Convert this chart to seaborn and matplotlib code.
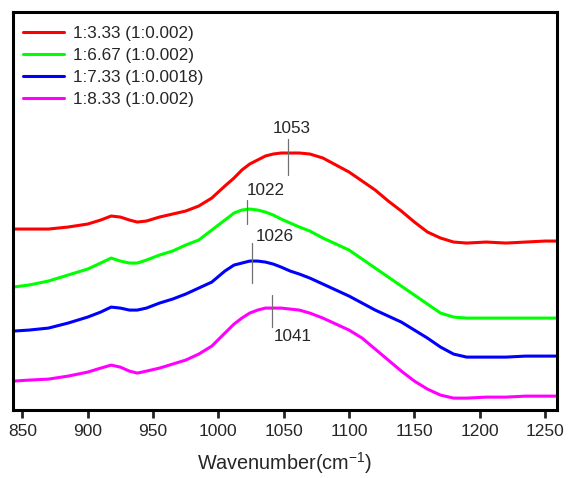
import numpy as np
import pandas as pd
import matplotlib
matplotlib.use('Agg')
import matplotlib.pyplot as plt
import seaborn as sns

sns.set_style('white')
plt.rcParams['font.family'] = ['Liberation Sans', 'DejaVu Sans']

# wavenumber grid (cm^-1) and intensities (arbitrary units, stacked)
wavenumber = [843, 855, 870, 885, 900, 910, 918, 925, 932, 938,
              945, 955, 965, 975, 985, 995, 1005, 1012, 1018, 1024,
              1030, 1036, 1042, 1048, 1055, 1062, 1070, 1080, 1090, 1100,
              1110, 1120, 1130, 1140, 1150, 1160, 1170, 1180, 1190, 1205,
              1220, 1235, 1250, 1259]

red = [181, 181, 181, 183, 186, 190, 194, 193, 190, 188,
       189, 193, 196, 199, 204, 212, 224, 232, 240, 246,
       250, 254, 256, 257, 257, 257, 256, 252, 245, 238,
       229, 220, 209, 199, 188, 178, 172, 168, 167, 168,
       167, 168, 169, 169]
green = [123, 125, 129, 135, 141, 147, 152, 149, 147, 147,
         150, 155, 159, 165, 170, 180, 190, 197, 200, 201,
         200, 198, 195, 191, 187, 183, 179, 172, 166, 160,
         151, 142, 133, 124, 115, 106, 97, 93, 92, 92,
         92, 92, 92, 92]
blue = [79, 80, 82, 87, 93, 98, 103, 102, 100, 100,
        102, 107, 111, 116, 122, 128, 139, 145, 147, 149,
        149, 148, 146, 143, 139, 136, 132, 126, 120, 114,
        107, 100, 94, 88, 80, 72, 63, 56, 53, 53,
        53, 54, 54, 54]
magenta = [29, 30, 31, 34, 38, 42, 45, 43, 39, 37,
           39, 42, 46, 50, 56, 64, 77, 86, 92, 97,
           100, 102, 102, 102, 101, 100, 97, 92, 86, 80,
           72, 61, 50, 39, 29, 21, 15, 12, 12, 13,
           13, 14, 14, 14]

labels = ['1:3.33 (1:0.002)', '1:6.67 (1:0.002)', '1:7.33 (1:0.0018)', '1:8.33 (1:0.002)']
colors = ['#ff0000', '#00ff00', '#0000ff', '#ff00ff']

# peak markers: position, marker line span, label position
peaks = [1053, 1022, 1026, 1041]
peak_lo = [235, 186, 127, 83]
peak_hi = [271, 210, 167, 115]
peak_text_x = [1056, 1036, 1043, 1057]
peak_text_y = [282, 220, 174, 74]

df = pd.concat([
    pd.DataFrame({'Wavenumber': wavenumber, 'Intensity': vals, 'Sample': lab})
    for vals, lab in zip([red, green, blue, magenta], labels)
])

fig, ax = plt.subplots(figsize=(5.7, 4.78), dpi=100)
fig.subplots_adjust(left=0.023, right=0.977, top=0.975, bottom=0.142)

sns.lineplot(data=df, x='Wavenumber', y='Intensity', hue='Sample',
             palette=dict(zip(labels, colors)), linewidth=2.2, ax=ax, sort=False)

for p, lo, hi, tx, ty in zip(peaks, peak_lo, peak_hi, peak_text_x, peak_text_y):
    ax.plot([p, p], [lo, hi], color='#707070', linewidth=0.9)
    ax.text(tx, ty, str(p), ha='center', va='center', fontsize=12.3)

ax.set_xlim(843, 1259)
ax.set_ylim(0, 398)
ax.set_xticks(np.arange(850, 1251, 50))
ax.set_yticks([])
ax.tick_params(axis='x', direction='out', length=6, width=2, labelsize=12.5, pad=4, bottom=True)
for s in ax.spines.values():
    s.set_linewidth(2.2)
    s.set_color('black')
ax.set_xlabel('Wavenumber(cm$^{\\mathregular{-1}}$)', fontsize=14.3, labelpad=8)
ax.set_ylabel('')

ax.legend(loc='upper left', bbox_to_anchor=(0, 0.99), frameon=False, fontsize=12.3,
          handlelength=2.4, handletextpad=0.5, labelspacing=0.4, borderaxespad=0.2,
          title=None)

fig.savefig('out.png', dpi=100)
